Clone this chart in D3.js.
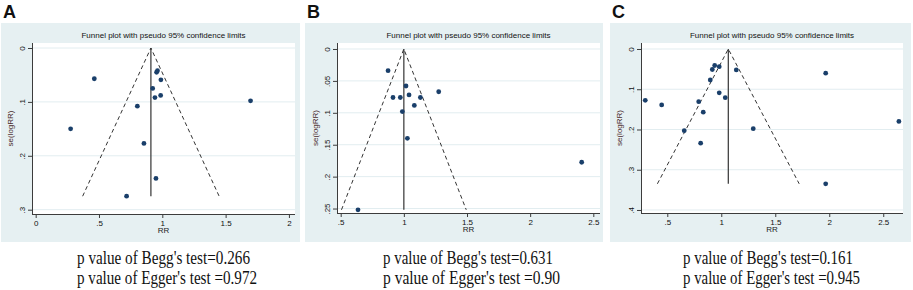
<!DOCTYPE html>
<html>
<head>
<meta charset="utf-8">
<script src="https://cdn.jsdelivr.net/npm/d3@7"></script>
<style>
  body { margin: 0; background: #fff; }
  svg { display: block; }
</style>
</head>
<body>
<svg id="chart" width="913" height="290"></svg>
<script>
// ---- data ----
const titleText = "Funnel plot with pseudo 95% confidence limits";
const panelLetters = ["A", "B", "C"];
const xTitle = "RR";
const yTitle = "se(logRR)";

// panel A
const aRR = [0.463, 0.955, 0.962, 0.989, 0.924, 0.987, 0.942, 1.697, 0.803, 0.276, 0.855, 0.95, 0.718];
const aSE = [0.057, 0.045, 0.042, 0.059, 0.075, 0.088, 0.092, 0.098, 0.108, 0.150, 0.177, 0.242, 0.275];
const aCenter = 0.91;
const aXTicks = [0, 0.5, 1, 1.5, 2];
const aYTicks = [0, 0.1, 0.2, 0.3];

// panel B
const bRR = [0.875, 1.017, 1.276, 0.914, 0.972, 1.041, 1.131, 1.083, 0.988, 1.028, 2.408, 0.637];
const bSE = [0.034, 0.058, 0.067, 0.076, 0.076, 0.072, 0.076, 0.0885, 0.098, 0.140, 0.1775, 0.252];
const bCenter = 1.0;
const bXTicks = [0.5, 1, 1.5, 2, 2.5];
const bYTicks = [0, 0.05, 0.1, 0.15, 0.2, 0.25];

// panel C
const cRR = [0.296, 0.448, 0.791, 0.833, 0.657, 0.809, 0.898, 0.917, 0.939, 0.981, 0.981, 1.037, 1.139, 1.296, 1.967, 1.967, 2.645];
const cSE = [0.1275, 0.139, 0.131, 0.157, 0.203, 0.234, 0.077, 0.051, 0.041, 0.044, 0.109, 0.121, 0.052, 0.198, 0.060, 0.335, 0.180];
const cCenter = 1.065;
const cXTicks = [0.5, 1, 1.5, 2, 2.5];
const cYTicks = [0, 0.1, 0.2, 0.3, 0.4];

const beggText = ["p value of Begg's test=0.266", "p value of Begg's test=0.631", "p value of Begg's test=0.161"];
const eggerText = ["p value of Egger's test =0.972", "p value of Egger's test =0.90", "p value of Egger's test =0.945"];

// ---- layout ----
const panels = [
  { rr: aRR, se: aSE, center: aCenter, xTicks: aXTicks, yTicks: aYTicks,
    box: [1, 23, 300, 242], plot: [32, 43, 295, 214],
    xDom: [-0.029, 2.048], yDom: [-0.0093, 0.308], textX: 77, textW: [173, 180] },
  { rr: bRR, se: bSE, center: bCenter, xTicks: bXTicks, yTicks: bYTicks,
    box: [305, 23, 603, 242], plot: [337, 43, 600, 213],
    xDom: [0.4707, 2.553], yDom: [-0.0094, 0.257], textX: 383, textW: [170, 177] },
  { rr: cRR, se: cSE, center: cCenter, xTicks: cXTicks, yTicks: cYTicks,
    box: [610, 23, 911, 242], plot: [641, 43, 903, 213],
    xDom: [0.2565, 2.683], yDom: [-0.0149, 0.4075], textX: 683, textW: [170, 177] }
];

const svg = d3.select("#chart");
const bg = "#e6f0f2";
const axisColor = "#3c3c3c";
const markerColor = "#1a3f6a";
const sansFont = "Arial, 'Liberation Sans', sans-serif";
const serifFont = "'Times New Roman', 'Liberation Serif', serif";

// Stata style tick labels: .5, .05, 1.5
const fmt = (d) => (d === 0 ? "0" : String(d).replace(/^0\./, "."));

panels.forEach((p, i) => {
  const [bx0, by0, bx1, by1] = p.box;
  const [px0, py0, px1, py1] = p.plot;
  const g = svg.append("g");

  g.append("rect")
    .attr("x", bx0).attr("y", by0)
    .attr("width", bx1 - bx0).attr("height", by1 - by0)
    .attr("fill", bg);

  g.append("rect")
    .attr("x", px0).attr("y", py0)
    .attr("width", px1 - px0).attr("height", py1 - py0)
    .attr("fill", "#fff");

  let x = d3.scaleLinear().domain(p.xDom).range([px0, px1]);
  let y = d3.scaleLinear().domain(p.yDom).range([py0, py1]);

  // grid lines
  g.selectAll(".grid")
    .data(p.yTicks)
    .join("line")
    .attr("x1", px0).attr("x2", px1)
    .attr("y1", (d) => y(d)).attr("y2", (d) => y(d))
    .attr("stroke", "#e2edf0")
    .attr("stroke-width", 1);

  // y axis
  const yAxis = g.append("g")
    .attr("transform", `translate(${px0},0)`)
    .call(d3.axisLeft(y).tickValues(p.yTicks).tickSize(4).tickSizeOuter(0).tickFormat(fmt));
  yAxis.select(".domain").attr("stroke", axisColor).attr("d", `M0.5,${py0}V${py1}`);
  yAxis.selectAll(".tick line").attr("stroke", axisColor);
  yAxis.selectAll(".tick text")
    .attr("x", null).attr("dy", null)
    .attr("transform", "translate(-10,0) rotate(-90)")
    .attr("text-anchor", "middle")
    .attr("dy", "0.35em")
    .attr("font-family", sansFont)
    .attr("font-size", 8)
    .attr("fill", "#111");

  // x axis
  const xAxis = g.append("g")
    .attr("transform", `translate(0,${py1})`)
    .call(d3.axisBottom(x).tickValues(p.xTicks).tickSize(4).tickSizeOuter(0).tickFormat(fmt));
  xAxis.select(".domain").attr("stroke", axisColor).attr("d", `M${px0},0.5H${px1}`);
  xAxis.selectAll(".tick line").attr("stroke", axisColor);
  xAxis.selectAll(".tick text")
    .attr("y", 6)
    .attr("font-family", sansFont)
    .attr("font-size", 8)
    .attr("fill", "#111");

  // axis titles
  g.append("text")
    .attr("x", (px0 + px1) / 2).attr("y", py1 + 19)
    .attr("text-anchor", "middle")
    .attr("font-family", sansFont).attr("font-size", 8).attr("fill", "#222")
    .text(xTitle);

  g.append("text")
    .attr("transform", `translate(${px0 - 19},${(py0 + py1) / 2}) rotate(-90)`)
    .attr("text-anchor", "middle")
    .attr("font-family", sansFont).attr("font-size", 8).attr("fill", "#4a2a2a")
    .text(yTitle);

  // title
  g.append("text")
    .attr("x", (px0 + px1) / 2).attr("y", py0 - 5)
    .attr("text-anchor", "middle")
    .attr("font-family", sansFont).attr("font-size", 8).attr("fill", "#111")
    .text(titleText);

  // funnel: pseudo 95% limits
  const seMax = d3.max(p.se);
  const funnel = [
    { rr: p.center - 1.96 * seMax, se: seMax },
    { rr: p.center, se: 0 },
    { rr: p.center + 1.96 * seMax, se: seMax }
  ];
  g.append("path")
    .datum(funnel)
    .attr("d", d3.line().x((d) => x(d.rr)).y((d) => y(d.se)))
    .attr("fill", "none")
    .attr("stroke", "#333")
    .attr("stroke-width", 1)
    .attr("stroke-dasharray", "4,3");

  g.append("line")
    .attr("x1", x(p.center)).attr("x2", x(p.center))
    .attr("y1", y(0)).attr("y2", y(seMax))
    .attr("stroke", "#333")
    .attr("stroke-width", 1.2);

  // studies
  g.selectAll(".pt")
    .data(p.rr.map((r, k) => ({ rr: r, se: p.se[k] })))
    .join("circle")
    .attr("cx", (d) => x(d.rr))
    .attr("cy", (d) => y(d.se))
    .attr("r", 2.4)
    .attr("fill", markerColor);

  // panel letter
  svg.append("text")
    .attr("x", bx0 + 2).attr("y", 18)
    .attr("font-family", sansFont).attr("font-weight", "bold").attr("font-size", 18)
    .attr("fill", "#111")
    .text(panelLetters[i]);

  // test p-values
  [beggText[i], eggerText[i]].forEach((t, k) => {
    svg.append("text")
      .attr("x", p.textX).attr("y", 264 + k * 20)
      .attr("font-family", serifFont).attr("font-size", 18.5)
      .attr("textLength", p.textW[k])
      .attr("lengthAdjust", "spacingAndGlyphs")
      .attr("fill", "#111")
      .text(t);
  });
});
</script>
</body>
</html>
